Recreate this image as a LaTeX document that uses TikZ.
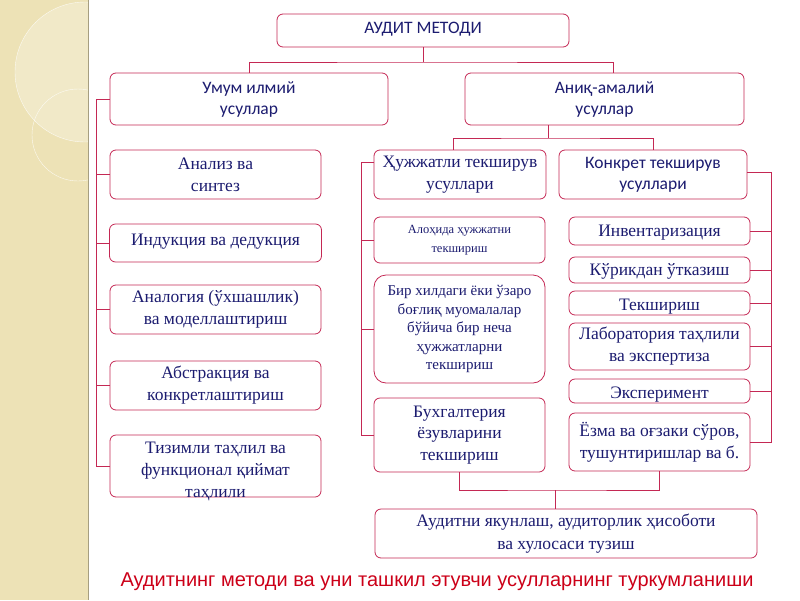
\documentclass[tikz,border=0pt]{standalone}
\usepackage{fontspec}
\setmainfont{Liberation Serif}
\newfontfamily\boxsans{Carlito}
\newfontfamily\capsans{Liberation Sans}
\usetikzlibrary{positioning}
\definecolor{frame}{RGB}{196,40,84}
\definecolor{ink}{RGB}{28,28,112}
\definecolor{strip}{RGB}{237,226,182}
\definecolor{capred}{RGB}{204,0,24}

\begin{document}
\begin{tikzpicture}[x=1pt,y=-1pt,semithick,
			every node/.style={inner sep=0pt,align=center,text=ink},
			box/.style={draw=frame,fill=white,rounded corners=6pt,thick},
			sbox/.style={box,font=\boxsans\fontsize{17.5}{21}\selectfont},
			tbox/.style={box,font=\fontsize{17.5}{22}\selectfont},
			nbox/.style={box,font=\fontsize{15}{18.5}\selectfont},
			oneline/.style={text height=14pt,text depth=4pt},
			lowline/.style={text height=17pt,text depth=3pt},
			link/.style={draw=frame,thick}]
			\useasboundingbox (0,0) rectangle (800,600);
			
			% left strip
			\fill[strip] (0,0) rectangle (88,600);
			\begin{scope}
				\clip (0,0) rectangle (88,600);
				\fill[white,opacity=.25] (85,72) circle (70pt);
				\draw[white,opacity=.8,thin] (85,72) circle (70pt);
				\draw[white,opacity=.8,thin] (78,135) circle (46pt);
			\end{scope}
			\draw[strip!70!black,thin] (88,0) -- (88,600);
			
			% head
			\node[sbox,text height=10pt,text depth=4pt,minimum width=292,minimum height=33] (T) at (423,30.5) {АУДИТ МЕТОДИ};
			\node[sbox,minimum width=278,minimum height=52] (U) at (249,99) {Умум илмий\\усуллар};
			\node[sbox,minimum width=279,minimum height=52] (A) at (604.5,99) {Аниқ-амалий\\усуллар};
			
			% general methods
			\node[tbox,minimum width=211,minimum height=49] (U1) at (215.5,174.5) {Анализ ва\\синтез};
			\node[tbox,text height=9pt,text depth=5pt,minimum width=212,minimum height=38] (U2) at (215.5,243) {Индукция ва дедукция};
			\node[tbox,minimum width=211,minimum height=49] (U3) at (215.5,309.5) {Аналогия (ўхшашлик)\\ ва моделлаштириш};
			\node[tbox,minimum width=211,minimum height=49] (U4) at (215.5,385.5) {Абстракция ва\\конкретлаштириш};
			\node[tbox,text height=62pt,text depth=0pt,minimum width=211,minimum height=62] (U5) at (215.5,466) {Тизимли таҳлил ва\\функционал қиймат\\таҳлили};
			
			% practical methods
			\node[tbox,minimum width=172,minimum height=49] (H) at (460,174.5) {Ҳужжатли текширув\\усуллари};
			\node[sbox,minimum width=188,minimum height=49] (K) at (653,174.5) {Конкрет текширув\\усуллари};
			
			\node[nbox,font=\fontsize{12.5}{19}\selectfont,minimum width=171,minimum height=46] (H1) at (459.5,240) {Алоҳида ҳужжатни\\текшириш};
			\node[nbox,rounded corners=12pt,minimum width=171,minimum height=108] (H2) at (459.5,329) {Бир хилдаги ёки ўзаро\\боғлиқ муомалалар\\бўйича бир неча\\ҳужжатларни\\текшириш};
			\node[tbox,font=\fontsize{17.5}{21.5}\selectfont,minimum width=171,minimum height=74] (H3) at (459.5,435) {Бухгалтерия\\ёзувларини\\ текшириш};
			
			\node[tbox,oneline,minimum width=181,minimum height=28] (K1) at (659.5,231) {Инвентаризация};
			\node[tbox,oneline,minimum width=181,minimum height=26] (K2) at (659.5,270) {Кўрикдан ўтказиш};
			\node[tbox,lowline,minimum width=181,minimum height=24] (K3) at (659.5,303) {Текшириш};
			\node[tbox,minimum width=181,minimum height=47] (K4) at (659.5,346.5) {Лаборатория таҳлили\\ва экспертиза};
			\node[tbox,lowline,minimum width=181,minimum height=24] (K5) at (659.5,391) {Эксперимент};
			\node[tbox,minimum width=181,minimum height=58] (K6) at (659.5,442) {Ёзма ва оғзаки сўров,\\тушунтиришлар ва б.};
			
			\node[tbox,font=\fontsize{17.5}{23}\selectfont,minimum width=382,minimum height=49] (F) at (566,533.5) {Аудитни якунлаш, аудиторлик ҳисоботи\\ва хулосаси тузиш};
			
			\node[font=\capsans\fontsize{20}{22}\selectfont,text=capred] (C) at (437,582) {Аудитнинг методи ва уни ташкил этувчи усулларнинг туркумланиши};
			
			% junctions
			\coordinate (t1) at (423,62);
			\coordinate (a1) at (548,138);
			\coordinate (j1) at (555,490);
			
			\path[link]
			(T.south) edge (t1)
			(U.north) edge[-, to path={|- (t1) -| ([xshift=9pt]A.north)}] ()
			([xshift=-56.5pt]A.south) edge (a1)
			([xshift=-7pt]H.north) edge[to path={|- (a1) -| (K.north)}] ()
			(H3.south) edge[to path={|- (j1) -| (K6.south)}] ()
			(j1) edge (j1 |- F.north);
			
			% left brackets
			\draw[link] (U.west) -- ++(-13,0) |- (U5.west);
			\foreach \n in {U1,U2,U3,U4}
			\draw[link] (\n.west) -- ++(-13,0);
			\draw[link] ([yshift=12pt]H.west) -- ++(-12,0) |- (H3.west);
			\foreach \n in {H1,H2}
			\draw[link] (\n.west) -- ++(-12,0);
			
			% right bracket
			\draw[link] ([yshift=2.5pt]K.east) -- ++(24,0) |- (K6.east);
			\foreach \n in {K1,K2,K3,K4,K5}
			\draw[link] (\n.east) -- ++(21,0);
		\end{tikzpicture}
\end{document}
